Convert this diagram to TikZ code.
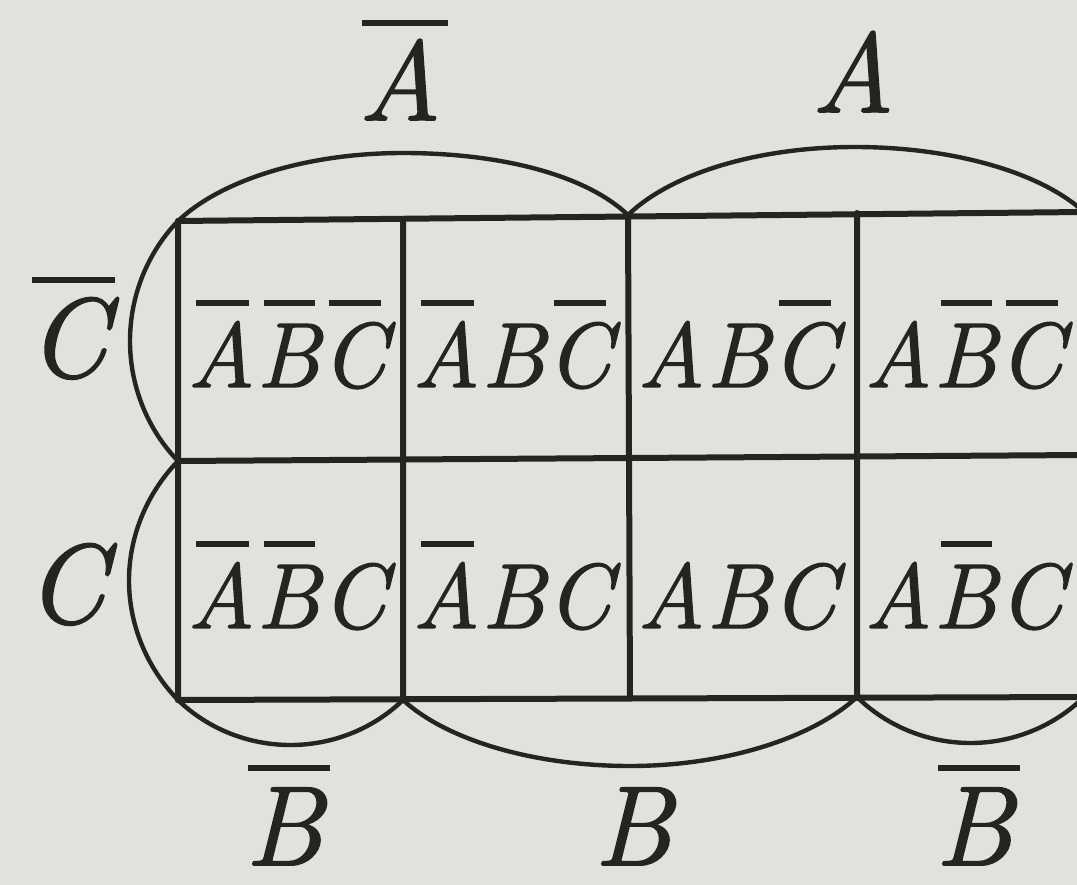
\documentclass[tikz,border=0pt]{standalone}
\usepackage{fontspec}
\setmainfont{Latin Modern Roman}[ItalicFeatures={FakeBold=1.6}]
\definecolor{paper}{RGB}{225,225,222}
\definecolor{ink}{RGB}{38,36,34}
% bar over a letter inside a cell
\newcommand\cb[1]{\setbox0\hbox{#1}\rlap{\kern0.12\wd0\rule[0.88em]{0.8\wd0}{0.065em}}\box0}
% bar over an outside label
\newcommand\lb[1]{\setbox0\hbox{#1}\rlap{\kern0.04\wd0\rule[0.83em]{1.05\wd0}{0.053em}}\box0}
\newcommand\gp{\hspace{0.02em}}
\begin{document}
\begin{tikzpicture}[x=1pt,y=-1pt,
  cell/.style={anchor=base, inner sep=0pt, text=ink, font=\fontsize{92}{96}\selectfont\itshape},
  lab/.style={anchor=base, inner sep=0pt, text=ink, font=\fontsize{113}{116}\selectfont\itshape},
  gridline/.style={draw=ink, line width=6pt, line cap=round},
  loopline/.style={draw=ink, line width=4.4pt}]
\useasboundingbox (0,0) rectangle (1077,885);
\fill[paper] (0,0) rectangle (1077,885);
\begin{scope}
\clip (0,0) rectangle (1077,885);
% grid intersections
\coordinate (t0) at (178,221); \coordinate (t1) at (403,219); \coordinate (t2) at (628,215);
\coordinate (t3) at (857,213); \coordinate (t4) at (1084,212);
\coordinate (m0) at (178,461); \coordinate (m1) at (403,460); \coordinate (m2) at (630,458);
\coordinate (m3) at (857,456); \coordinate (m4) at (1084,455);
\coordinate (b0) at (178,700); \coordinate (b1) at (403,700); \coordinate (b2) at (630,698);
\coordinate (b3) at (857,697); \coordinate (b4) at (1084,697);
% grid
\draw[gridline] (t0) -- (t4) (m0) -- (m4) (b0) -- (b4);
\draw[gridline] (t0) -- (b0) (t1) -- (b1) (t2) -- (b2) (t3) -- (b3) (t4) -- (b4);
% loops
\draw[loopline] (t0) .. controls (222,179.2) and (308.6,153) .. (403,153)
                     .. controls (497.4,153) and (584,173.5) .. (t2);
\draw[loopline] (t2) .. controls (672.3,172.4) and (759.7,147) .. (855,147)
                     .. controls (950.3,147) and (1039.7,171.4) .. (t4);
\draw[loopline] (t0) .. controls (147.3,252.8) and (130,296) .. (130,341)
                     .. controls (130,386) and (147.3,429.2) .. (m0);
\draw[loopline] (m0) .. controls (147.3,492.8) and (129,535.5) .. (129,580.5)
                     .. controls (129,625.5) and (147.3,668.2) .. (b0);
\draw[loopline] (b0) .. controls (207.8,728.8) and (248.3,745) .. (290.5,745)
                     .. controls (332.7,745) and (373.2,728.8) .. (b1);
\draw[loopline] (b1) .. controls (447.3,740.6) and (534.7,766) .. (630,766)
                     .. controls (725.3,766) and (812.7,738) .. (b3);
\draw[loopline] (b3) .. controls (887.1,726.4) and (927.9,743) .. (970.5,743)
                     .. controls (1013.1,743) and (1053.9,726.4) .. (b4);
% cell texts
\node[cell] (n11) at (287,387) {\cb{A}\gp\cb{B}\gp\cb{C}};
\node[cell] (n12) at (512,387) {\cb{A}\gp B\gp\cb{C}};
\node[cell] (n13) at (737,387) {A\gp B\gp\cb{C}};
\node[cell] (n14) at (964,387) {A\gp\cb{B}\gp\cb{C}};
\node[cell] (n21) at (287,628) {\cb{A}\gp\cb{B}\gp C};
\node[cell] (n22) at (512,628) {\cb{A}\gp B\gp C};
\node[cell] (n23) at (737,628) {A\gp B\gp C};
\node[cell] (n24) at (964,628) {A\gp\cb{B}\gp C};
% labels
\node[lab] (la1) at (400,120) {\lb{A}};
\node[lab] (la2) at (853,112) {A};
\node[lab] (lc1) at (68,377) {\lb{C}};
\node[lab] (lc2) at (66,623) {C};
\node[lab] (lb1) at (284,865) {\lb{B}};
\node[lab] (lb2) at (633,865) {B};
\node[lab] (lb3) at (974,865) {\lb{B}};
\end{scope}
\end{tikzpicture}
\end{document}
